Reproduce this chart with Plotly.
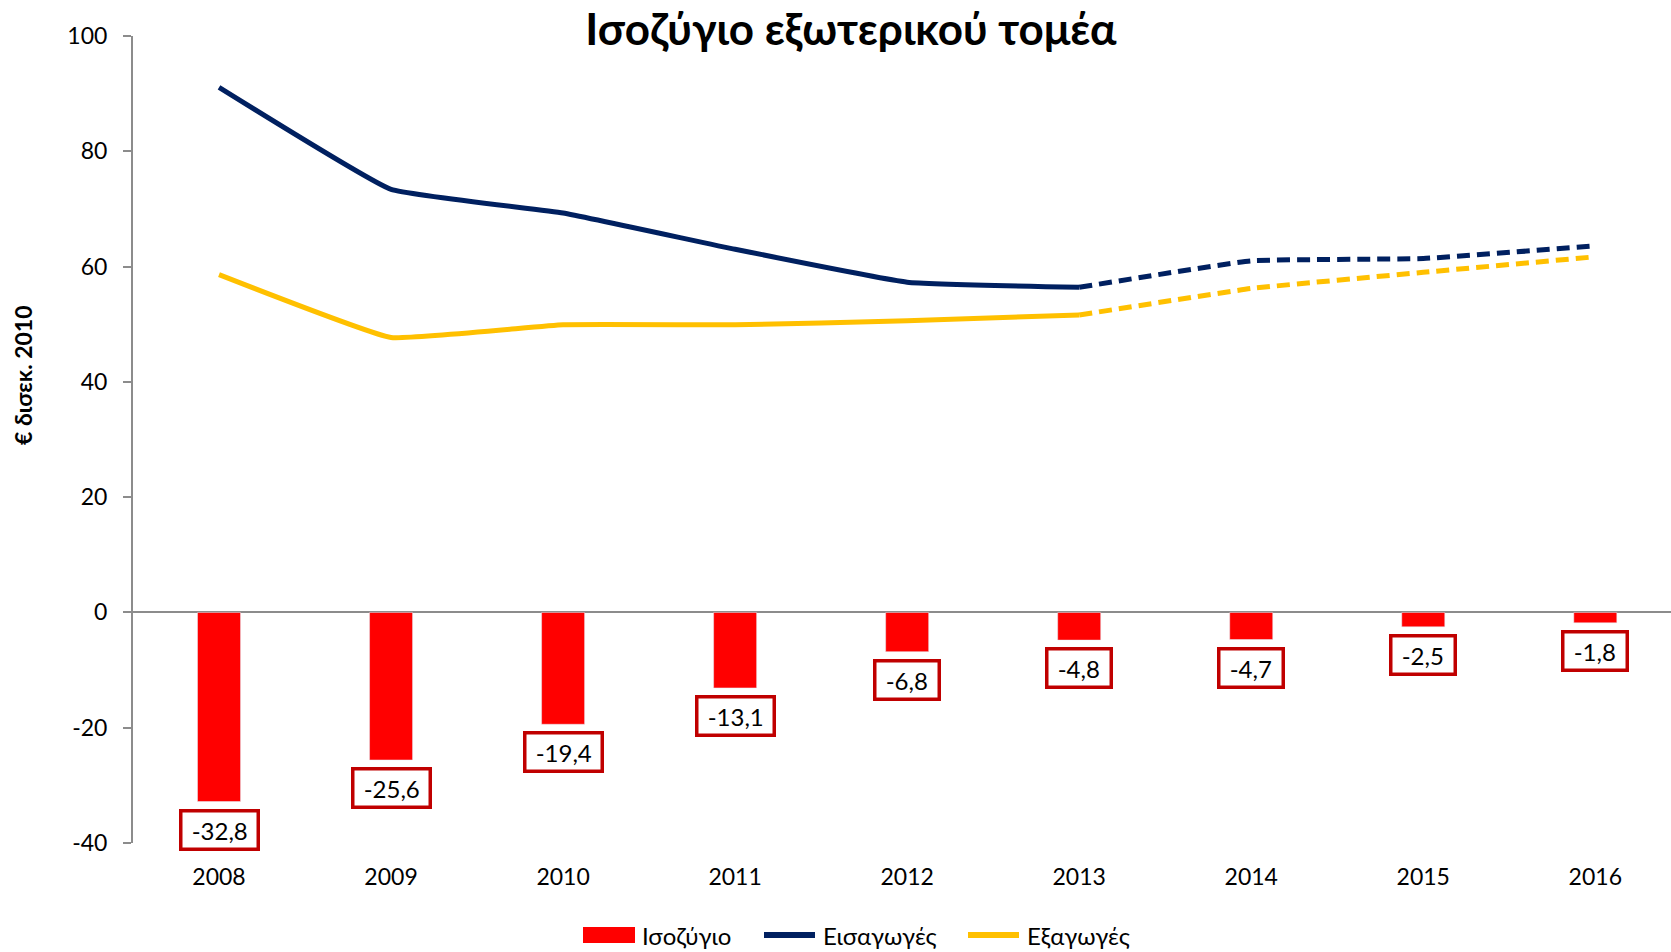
import plotly.graph_objects as go

years = ["2008", "2009", "2010", "2011", "2012", "2013", "2014", "2015", "2016"]
balance = [-32.8, -25.6, -19.4, -13.1, -6.8, -4.8, -4.7, -2.5, -1.8]
imports = [91.1, 73.4, 69.3, 63.0, 57.3, 56.4, 61.0, 61.4, 63.6]
exports = [58.6, 47.7, 49.9, 49.9, 50.6, 51.6, 56.2, 59.0, 61.7]
balance_labels = ["-32,8", "-25,6", "-19,4", "-13,1", "-6,8", "-4,8", "-4,7", "-2,5", "-1,8"]
y_ticks = [-40, -20, 0, 20, 40, 60, 80, 100]
y_tick_labels = ["-40", "-20", "0", "20", "40", "60", "80", "100"]
split = 5  # last actual year index (2013); later years are forecasts

FONT = "Lato"
RED = "#FF0000"
NAVY = "#002060"
GOLD = "#FFC000"
W, H = 1671, 952
L, R, T, B = 133, 0, 36, 109
PW, PH = W - L - R, H - T - B


def px(xp):
    return (xp - L) / PW


def py(yp):
    return (H - B - yp) / PH


xs = list(range(len(years)))

fig = go.Figure()
fig.add_trace(go.Bar(x=xs, y=balance, name="Ισοζύγιο", marker_color=RED, width=0.25, showlegend=False))
fig.add_trace(go.Scatter(x=xs[:split + 1], y=imports[:split + 1], name="Εισαγωγές", mode="lines",
                         showlegend=False,
                         line=dict(color=NAVY, width=5, shape="spline", smoothing=0.3)))
fig.add_trace(go.Scatter(x=xs[split:], y=imports[split:], mode="lines", showlegend=False,
                         line=dict(color=NAVY, width=5, dash="13px,7px", shape="spline", smoothing=0.3)))
fig.add_trace(go.Scatter(x=xs[:split + 1], y=exports[:split + 1], name="Εξαγωγές", mode="lines",
                         showlegend=False,
                         line=dict(color=GOLD, width=5, shape="spline", smoothing=0.3)))
fig.add_trace(go.Scatter(x=xs[split:], y=exports[split:], mode="lines", showlegend=False,
                         line=dict(color=GOLD, width=5, dash="13px,7px", shape="spline", smoothing=0.3)))

annotations = []
for x, v, t in zip(xs, balance, balance_labels):
    annotations.append(dict(x=x, y=v, xref="x", yref="y", text="\u00a0" + t + "\u00a0", showarrow=False,
                            yanchor="top", yshift=-7,
                            font=dict(family=FONT, size=24, color="black"),
                            bgcolor="white", bordercolor="#C00000", borderwidth=3.5, borderpad=3))

# y-axis title
annotations.append(dict(x=px(23), y=py(375), xref="paper", yref="paper", text="€ δισεκ. 2010",
                        showarrow=False, textangle=-90,
                        font=dict(family=FONT, size=23, color="black", weight="bold"),
                        xanchor="center", yanchor="middle"))

# custom legend (to mimic the wide swatches of the original)
leg_y = 935
shapes = [
    dict(type="rect", xref="paper", yref="paper", x0=px(583), x1=px(635), y0=py(leg_y + 8), y1=py(leg_y - 8),
         fillcolor=RED, line=dict(width=0)),
    dict(type="line", xref="paper", yref="paper", x0=px(764), x1=px(815), y0=py(leg_y), y1=py(leg_y),
         line=dict(color=NAVY, width=6)),
    dict(type="line", xref="paper", yref="paper", x0=px(968), x1=px(1019), y0=py(leg_y), y1=py(leg_y),
         line=dict(color=GOLD, width=6)),
]
for xl, name in [(640, "Ισοζύγιο"), (821, "Εισαγωγές"), (1025, "Εξαγωγές")]:
    annotations.append(dict(x=px(xl), y=py(leg_y), xref="paper", yref="paper", text=name, showarrow=False,
                            xanchor="left", yanchor="middle",
                            font=dict(family=FONT, size=24, color="black")))

fig.update_layout(
    width=W, height=H,
    margin=dict(l=L, r=R, t=T, b=B),
    paper_bgcolor="white", plot_bgcolor="white",
    title=dict(text="Ισοζύγιο εξωτερικού τομέα", x=851 / W, xanchor="center",
               y=1 - 30 / H, yanchor="middle",
               font=dict(family=FONT, size=44, color="black", weight="bold")),
    xaxis=dict(tickmode="array", tickvals=xs, ticktext=years, range=[-0.5, 8.44],
               showgrid=False, zeroline=False, showline=False, ticks="",
               ticklabelstandoff=18,
               tickfont=dict(family=FONT, size=23, color="black")),
    yaxis=dict(range=[-40, 100], tickmode="array", tickvals=y_ticks, ticktext=y_tick_labels,
               showgrid=False, zeroline=True,
               zerolinecolor="#8C8C8C", zerolinewidth=2,
               showline=True, linecolor="#8C8C8C", linewidth=2,
               ticks="outside", ticklen=8, tickcolor="#8C8C8C", tickwidth=2,
               ticklabelstandoff=11,
               tickfont=dict(family=FONT, size=23, color="black")),
    annotations=annotations,
    shapes=shapes,
    showlegend=False,
)

fig.write_html("out.html", config={"displayModeBar": False},
               post_script="document.body.style.margin='0';")
